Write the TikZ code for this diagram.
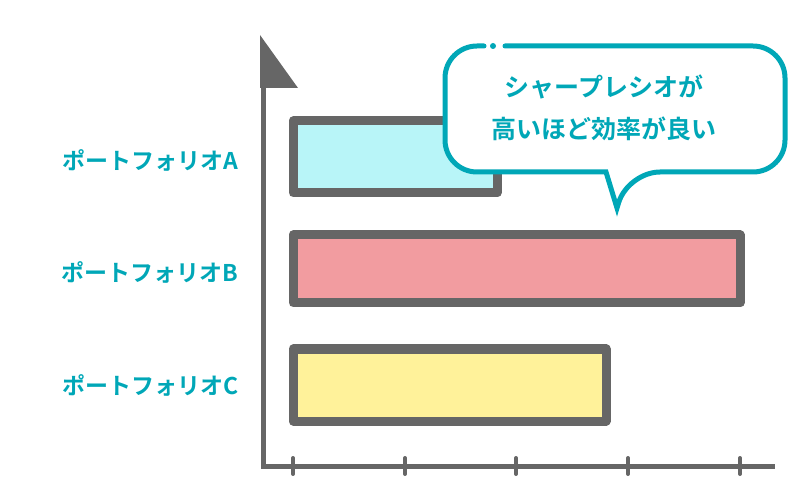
\documentclass[tikz,border=0pt]{standalone}
\usepackage{fontspec}
\newfontfamily\jpfont{Noto Sans CJK JP}[BoldFont={Noto Sans CJK JP Bold}]
\usetikzlibrary{positioning}
\definecolor{labelteal}{HTML}{00A7B7}
\definecolor{axisgray}{HTML}{666666}
\definecolor{barA}{HTML}{B8F5F8}
\definecolor{barB}{HTML}{F29CA0}
\definecolor{barC}{HTML}{FFF29A}

\begin{document}
\begin{tikzpicture}[x=1pt, y=-1pt,
    bar/.style={draw=axisgray, line width=9pt, line join=round},
    label/.style={anchor=east, text=labelteal, font=\jpfont\bfseries\fontsize{23}{27}\selectfont},
    axis/.style={draw=axisgray, line width=5pt},
    tick/.style={axisgray, line width=4pt, line cap=round}
]
\useasboundingbox (0,0) rectangle (800,502);

% Axes
\draw[axis] (263,60) -- (263,466) -- (775,466);
\fill[axisgray] (260,35) -- (298,88) -- (260,88) -- cycle;
\foreach \x in {293,405,516,628,740}
  \draw[tick] (\x,458) -- (\x,474);

% Bars
\draw[bar, fill=barA] (293,121) rectangle (497,193);
\draw[bar, fill=barB] (293,235) rectangle (740,303);
\draw[bar, fill=barC] (293,349) rectangle (606,421);

% Labels
\node[label] (la) at (242,160) {ポートフォリオA};
\node[label] (lb) at (242,272) {ポートフォリオB};
\node[label] (lc) at (242,385) {ポートフォリオC};

% Speech bubble
\draw[labelteal, line width=5pt, fill=white, rounded corners=32, line cap=round]
  (505,46) -- (785,46) -- (785,172) -- (628,172) [sharp corners] -- (617,208) -- (606,172)
  [rounded corners=32] -- (445,172) -- (445,46) -- (484,46);
\fill[labelteal] (493,46) circle (3pt);
\node[text=labelteal, font=\jpfont\bfseries\fontsize{25}{42}\selectfont, align=center] (note) at (604,108)
  {シャープレシオが\\高いほど効率が良い};
\end{tikzpicture}
\end{document}
